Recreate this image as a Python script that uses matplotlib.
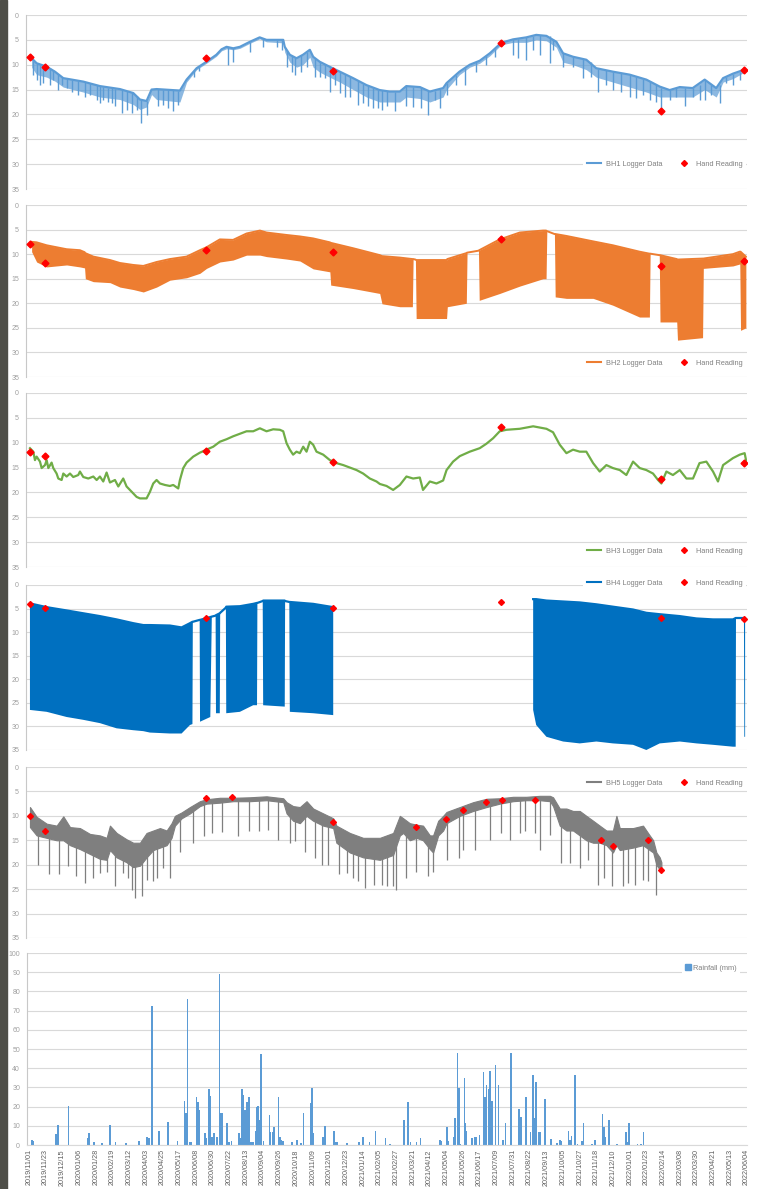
import numpy as np
import pandas as pd
import matplotlib
matplotlib.use('Agg')
import matplotlib.pyplot as plt
from matplotlib.lines import Line2D
from matplotlib.patches import Patch, Rectangle

plt.rcParams['font.family'] = ['Liberation Sans', 'DejaVu Sans']

# x values are days since the first date on the axis
START = '2019-11-01'
tick_days = np.arange(0, 947, 22)
tick_labels = (pd.Timestamp(START) + pd.to_timedelta(tick_days, unit='D')).strftime('%Y/%m/%d')

# hand readings (same visits for BH1-BH4)
hand_day = [2.6, 22.4, 233.8, 400.9, 623, 833.8, 943]
bh1_hand = [8.5, 10.4, 8.6, 11.2, 5.6, 19.4, 11.0]
bh2_hand = [7.95, 11.9, 9.2, 9.65, 7.0, 12.4, 11.35]
bh3_hand = [11.8, 12.65, 11.6, 13.8, 6.9, 17.2, 14.1]
bh4_hand = [4.1, 4.8, 6.9, 4.8, 3.7, 6.9, 7.3]
bh5_hand_day = [2.6, 22.4, 234.2, 268.9, 401.8, 511.4, 550, 572, 602.6, 624, 667, 754.8, 770, 816.2, 833]
bh5_hand = [10.1, 13.2, 6.3, 6.2, 11.3, 12.3, 10.6, 8.9, 7.2, 6.8, 6.7, 14.9, 16.2, 14.9, 21.1]

# BH1 logger: upper trace, lower edge of the dense dips, and the longer dips
bh1_day = [4.8, 11.4, 24.6, 35.5, 46.5, 72.8, 94.7, 121, 138.6, 147.4, 156.1, 162.7, 169.3, 200, 208.8,
           222, 235, 248, 254.8, 261.4, 270.2, 279, 292, 305, 314, 336, 338, 344.7, 353.5, 362,
           371, 375.4, 384, 397, 410.5, 428, 445.6, 463, 476, 489.5, 498, 516, 529, 546.5, 551,
           568, 581.6, 594.7, 608, 623, 638.6, 656, 669, 682.5, 695.6, 704.4, 717.5, 735, 748, 770,
           792, 814, 831.6, 844.7, 858, 875, 890.8, 906, 915, 928, 943]
bh1_level = [8.7, 9.7, 10.4, 11.4, 12.7, 13.4, 14.3, 14.9, 15.7, 17.0, 17.3, 15.0, 14.9, 15.2, 13.0,
             10.7, 9.4, 8.0, 6.9, 6.4, 6.7, 6.4, 5.4, 4.5, 5.0, 5.0, 6.4, 8.0, 8.7, 8.0,
             7.0, 8.4, 9.4, 10.4, 11.4, 12.7, 14.1, 15.1, 15.4, 15.4, 14.3, 14.5, 15.4, 14.7, 13.7,
             11.4, 10.0, 9.2, 7.7, 5.6, 4.9, 4.5, 4.0, 4.2, 5.4, 7.7, 8.4, 9.0, 10.7, 11.4,
             12.0, 13.0, 14.4, 15.1, 14.5, 14.7, 13.0, 14.7, 12.7, 11.8, 11.0]
bh1_band = [10.5, 12.0, 12.5, 13.3, 14.5, 15.5, 16.5, 17.0, 18.0, 19.0, 18.5, 16.0, 17.0, 17.5, 13.5,
            11.0, 9.7, 8.3, 7.2, 6.8, 7.0, 6.7, 5.7, 4.8, 5.4, 5.6, 7.5, 9.5, 10.5, 10.0,
            8.5, 10.5, 11.5, 12.5, 13.5, 15.0, 16.5, 17.5, 17.5, 17.5, 16.5, 16.8, 17.5, 16.5, 15.0,
            12.0, 10.5, 9.7, 8.2, 6.0, 5.5, 5.5, 5.0, 5.2, 6.5, 9.5, 10.0, 11.0, 12.5, 13.5,
            14.5, 15.5, 16.5, 16.5, 16.5, 16.5, 15.0, 16.5, 13.5, 12.8, 11.5]
bh1_spike_day = [7, 11.4, 15.8, 20.2, 29, 33.3, 40, 44.3, 51, 57.5, 66.2, 75, 81.6, 90.4, 94.7, 99.1,
                 105.7, 110, 114.5, 123.2, 129.8, 136.4, 143, 148.2, 156.1, 171.5, 178, 184.6, 191.2,
                 197.8, 218.4, 225.4, 263.6, 270.2, 292, 309.6, 327.2, 333.8, 340.4, 347, 351.3, 360,
                 366.7, 377.6, 384.2, 390.8, 397.4, 404, 410.5, 417, 423.7, 434.6, 441.2, 447.8, 454.4,
                 461, 465.4, 472, 483, 498.2, 507, 518, 526.8, 535.5, 542, 551, 564, 575, 590.4, 603.5,
                 614.5, 638.6, 645, 656, 665, 673.7, 686.8, 691, 704.4, 717.5, 730.7, 741.7, 750.4,
                 761.4, 770, 781, 792, 800.9, 809.6, 818.4, 827, 833.8, 844.7, 853.5, 864.5, 875.4,
                 884, 890.8, 899.6, 910.5, 919, 928, 937]
bh1_spike_top = [9.3, 9.7, 10.0, 10.2, 10.7, 11.0, 11.8, 12.4, 12.8, 13.0, 13.2, 13.4, 13.7, 14.1, 14.3, 14.4,
                 14.6, 14.7, 14.8, 15.0, 15.3, 15.6, 16.3, 17.0, 17.3, 14.9, 15.0, 15.1, 15.1,
                 15.2, 11.2, 10.4, 6.5, 6.7, 5.4, 4.7, 5.0, 5.0, 7.2, 8.3, 8.6, 8.1,
                 7.5, 8.6, 9.4, 9.9, 10.4, 10.9, 11.4, 11.8, 12.4, 13.2, 13.8, 14.2, 14.6,
                 15.0, 15.1, 15.3, 15.4, 14.3, 14.4, 14.5, 15.3, 15.2, 14.9, 13.7, 12.0, 10.7, 9.5, 8.2,
                 6.8, 4.9, 4.8, 4.5, 4.2, 4.0, 4.3, 4.8, 7.7, 8.4, 8.9, 9.5, 10.8,
                 11.1, 11.4, 11.7, 12.0, 12.4, 12.8, 13.2, 14.0, 14.6, 15.1, 14.7, 14.6, 14.7,
                 14.0, 13.0, 14.0, 14.0, 12.5, 11.8, 11.4]
bh1_spike_low = [12.0, 13.0, 14.1, 13.7, 14.1, 13.0, 15.1, 14.1, 14.7, 15.4, 16.0, 16.4, 16.0, 17.1, 17.7, 17.1,
                 17.4, 17.7, 18.4, 19.7, 19.1, 19.7, 19.1, 21.8, 20.1, 18.4, 18.1, 18.7, 19.4,
                 18.1, 12.4, 11.2, 10.0, 9.4, 7.4, 6.4, 6.4, 7.0, 10.4, 11.4, 12.0, 11.4,
                 10.4, 12.4, 12.4, 12.7, 15.4, 14.1, 15.7, 16.4, 16.4, 18.1, 17.7, 18.4, 18.7,
                 18.7, 19.1, 18.4, 19.4, 18.4, 18.6, 18.7, 20.1, 17.1, 18.7, 16.0, 14.1, 14.1, 11.4, 10.0,
                 8.5, 8.0, 8.7, 9.0, 7.0, 8.0, 9.7, 7.0, 10.4, 10.4, 12.7, 12.4, 15.4,
                 14.1, 15.0, 15.4, 16.4, 16.7, 16.0, 17.1, 17.5, 18.8, 17.0, 16.4, 18.3, 16.4,
                 17.1, 17.1, 16.0, 17.7, 13.7, 14.0, 13.0]

# BH2 logger (upper and lower edge of the dense trace)
bh2_day = [4.8, 11.4, 24.6, 37.7, 50.9, 68.4, 74.5, 75.5, 86, 108, 121, 138.6, 151.8, 169.3, 186.8,
           208.8, 226.3, 235, 252.6, 270, 287.7, 305.3, 314, 340.4, 358, 375.4, 397.4, 398.5, 428, 445.6,
           463, 466, 489.5, 506, 507, 510, 511, 551, 552, 577, 578, 593, 594, 621, 647.4,
           678, 682, 683, 693, 694, 708.8, 743.9, 770, 805, 818, 819, 831, 832, 854, 855,
           888, 889, 928, 937, 938, 945]
bh2_top = [7.5, 7.6, 8.2, 8.6, 9.0, 9.2, 9.6, 9.8, 10.5, 11.2, 11.8, 12.2, 12.4, 11.6, 11.0,
           10.5, 9.2, 8.6, 7.0, 7.1, 5.8, 5.2, 5.6, 6.1, 6.4, 6.8, 7.6, 7.7, 8.8, 9.5,
           10.2, 10.4, 10.7, 11.0, 11.0, 11.1, 11.2, 11.2, 11.0, 9.8, 9.7, 9.3, 9.2, 7.0, 5.6,
           5.2, 5.2, 5.3, 5.9, 5.9, 6.3, 7.4, 8.2, 9.5, 9.9, 9.9, 10.2, 10.2, 11.0, 11.1,
           10.9, 10.9, 10.0, 9.5, 9.5, 10.5]
bh2_low = [9.5, 11.6, 12.6, 12.4, 12.2, 12.6, 12.8, 15.0, 15.6, 15.8, 16.7, 17.2, 17.7, 16.7, 15.3,
           14.8, 13.9, 12.9, 11.6, 11.2, 10.2, 10.2, 10.5, 11.0, 11.4, 13.0, 13.6, 16.3, 17.0, 17.5,
           18.0, 20.1, 20.7, 20.7, 11.0, 11.1, 23.1, 23.1, 20.7, 20.0, 9.7, 9.3, 19.4, 18.0, 16.5,
           15.0, 15.0, 5.3, 5.9, 18.7, 19.0, 19.0, 20.4, 22.8, 22.8, 9.9, 10.2, 23.8, 23.8, 27.5,
           27.0, 12.9, 12.4, 12.0, 25.5, 25.0]

# BH3 logger
bh3_day = [2.6, 7.0, 9.2, 11.4, 15.8, 18.0, 22.4, 24.6, 26.8, 31.1, 33.3, 37.7, 39.9, 44.3, 46.5,
           50.9, 55.3, 59.6, 66.2, 68.4, 72.8, 79.4, 86, 90.4, 94.7, 99.1, 103.5, 107.9, 114.5, 118.9,
           125.4, 129.8, 134.2, 138.6, 143, 147.4, 156.1, 160.5, 164.9, 169.3, 173.7, 180.3, 186.8, 191.2, 197.8,
           200, 204.4, 208.8, 217.5, 226.3, 235, 243.9, 252.6, 261.4, 270.2, 279, 287.7, 296.5, 305.3, 309.6,
           314, 322.8, 331.6, 336, 340.4, 344.7, 349, 353.5, 357.9, 362.3, 366.7, 371, 375.4, 379.8, 388.6,
           397.4, 406, 415, 423.7, 432.5, 441.2, 450, 458.8, 463.2, 472, 480.7, 489.5, 498.2, 507, 515.8,
           520, 529, 537.7, 546.5, 551, 559.6, 568.4, 581.6, 594.7, 603.5, 612.3, 621, 629.8, 647.4, 665,
           682.5, 691.2, 700, 708.8, 717.5, 726.3, 735, 743.9, 752.6, 761.4, 770, 779, 787.7, 796.5, 805.3,
           814, 822.8, 829.4, 833.8, 840.4, 849, 858, 866.7, 875.4, 884, 893, 901.8, 908.3, 915, 928,
           937, 943.4, 945.6]
bh3_level = [11.1, 11.8, 13.5, 12.8, 13.8, 15.1, 14.5, 13.5, 15.1, 14.0, 15.1, 16.2, 17.2, 17.5, 16.2,
             16.8, 16.2, 16.9, 16.5, 15.8, 16.9, 17.2, 16.8, 17.5, 16.8, 17.8, 16.0, 18.0, 17.5, 18.8,
             17.2, 18.8, 19.5, 20.2, 20.9, 21.2, 21.2, 19.9, 18.2, 17.5, 18.2, 18.5, 18.7, 18.5, 19.2,
             17.5, 15.1, 14.0, 12.8, 12.0, 11.4, 10.8, 9.8, 9.3, 8.7, 8.2, 7.7, 7.7, 7.1, 7.4,
             7.7, 7.3, 7.4, 7.7, 10.1, 11.4, 12.4, 11.8, 12.1, 10.8, 11.8, 9.8, 10.4, 11.8, 12.4,
             13.5, 14.1, 14.5, 15.0, 15.5, 16.2, 17.2, 17.8, 18.3, 18.7, 19.5, 18.5, 16.8, 17.2, 17.0,
             19.5, 17.8, 18.2, 17.6, 15.5, 13.8, 12.7, 11.8, 11.1, 10.2, 9.1, 7.7, 7.4, 7.2, 6.7,
             7.2, 7.9, 10.4, 12.1, 11.4, 11.8, 11.8, 14.1, 15.8, 14.5, 15.1, 15.5, 16.5, 13.8, 15.1,
             15.5, 16.2, 17.5, 18.2, 15.8, 16.5, 15.5, 17.2, 17.2, 14.1, 13.8, 15.8, 17.8, 14.5, 13.1,
             12.4, 12.1, 13.8]

# BH4 logger (two recording periods, nan = no data)
bh4_day = [2.6, 24.6, 50.9, 72.8, 94.7, 116.7, 138.6, 151.8, 160.5, 186.8, 202.2, 213.2, 216.5, 217, 226,
           226.5, 240, 242, 247, 247.5, 252.5, 253, 260.5, 261, 279, 296.5, 301.5, 302, 309, 309.6,
           338, 338.5, 344, 344.7, 375.4, 401.8, 402.5,
           665, 669, 682.5, 704.4, 726.3, 748.2, 770, 796.5, 814, 831.6, 858, 880, 901.8, 928,
           931.6, 932, 942.5, 943, 944]
bh4_top = [3.9, 4.7, 5.4, 6.0, 6.6, 7.3, 8.1, 8.5, 8.5, 8.6, 9.0, 8.1, 7.8, 7.8, 7.4,
           7.4, 6.8, 6.7, 6.5, 6.4, 6.0, 5.9, 4.8, 4.6, 4.5, 4.0, 3.8, 3.8, 3.4, 3.3,
           3.3, 3.4, 3.6, 3.6, 4.0, 4.7, np.nan,
           3.0, 3.0, 3.3, 3.5, 3.7, 4.1, 4.6, 5.2, 5.9, 6.2, 6.6, 7.1, 7.3, 7.3,
           7.0, 7.0, 7.0, 7.2, 7.3]
bh4_low = [26.5, 26.9, 28.0, 28.6, 29.3, 30.4, 30.8, 31.0, 31.3, 31.5, 31.5, 29.7, 29.5, 7.8, 7.4,
           29.0, 28.0, 6.7, 6.5, 27.2, 27.2, 5.9, 4.8, 27.2, 26.9, 25.5, 25.5, 3.8, 3.4, 25.5,
           25.8, 3.4, 3.6, 26.9, 27.2, 27.6, np.nan,
           26.5, 29.7, 32.2, 33.2, 33.6, 33.2, 33.6, 33.9, 35.0, 33.6, 33.2, 33.6, 33.9, 34.3,
           34.3, 7.0, 7.0, 32.2, 32.2]

# BH5 logger (noise band) and its spikes
bh5_day = [2.6, 11.4, 24.6, 37.7, 46.5, 55.3, 68.4, 81.6, 94.7, 103.5, 107.9, 116.7, 129.8, 138.6, 147.4,
           156.1, 164.9, 173.7, 182.5, 189, 193.4, 202.2, 213.2, 226.3, 235, 252.6, 270.2, 292, 314, 336,
           340.4, 349, 357.9, 366.7, 375.4, 388.6, 401.8, 406, 423.7, 441.2, 463.2, 480.7, 489.5, 494, 502.6,
           511.4, 520, 529, 533.3, 540, 546.5, 551, 568.4, 586, 603.5, 621, 638.6, 656, 673.7, 687,
           691.2, 700, 708.8, 717.5, 726.3, 735, 743.9, 752.6, 761.4, 770, 774.6, 779, 796.5, 809.6, 818.4,
           823, 827.2, 831.6, 833.8]
bh5_top = [8.2, 10.2, 11.6, 12.0, 10.1, 12.3, 12.5, 13.7, 14.0, 14.5, 12.0, 13.5, 14.8, 15.5, 15.5,
           13.5, 13.0, 12.5, 13.0, 11.5, 10.0, 9.3, 8.2, 7.0, 6.6, 6.3, 6.3, 6.2, 6.0, 6.4,
           7.2, 8.0, 8.2, 7.0, 8.5, 9.5, 10.5, 12.0, 13.5, 14.5, 14.5, 13.5, 10.0, 10.5, 11.5,
           11.8, 12.0, 14.0, 14.0, 11.0, 10.0, 9.2, 8.2, 7.2, 6.5, 6.4, 6.1, 6.1, 5.9, 5.9,
           6.2, 8.5, 8.5, 9.0, 9.0, 10.0, 11.0, 12.0, 13.0, 13.0, 10.0, 12.5, 12.5, 12.0, 14.0,
           15.0, 17.5, 18.5, 19.5]
bh5_low = [12.3, 14.0, 14.5, 15.0, 15.0, 16.0, 16.8, 17.8, 18.8, 19.0, 17.0, 18.5, 19.5, 20.5, 20.2,
           18.5, 17.0, 16.5, 16.0, 14.5, 12.0, 10.5, 9.5, 8.0, 7.5, 7.3, 7.0, 7.0, 6.8, 7.2,
           9.5, 11.0, 11.5, 10.0, 11.0, 12.0, 12.5, 15.5, 17.5, 18.5, 19.0, 18.0, 14.0, 13.5, 15.0,
           14.5, 15.0, 16.8, 17.5, 14.0, 13.0, 11.5, 10.0, 9.0, 8.2, 7.5, 7.0, 6.8, 6.8, 7.0,
           8.0, 12.0, 13.0, 13.0, 14.0, 15.0, 15.5, 15.5, 16.0, 17.5, 16.0, 17.0, 16.5, 16.0, 17.0,
           17.5, 20.0, 21.0, 21.5]
bh5_spike_day = [13.6, 28, 41.2, 53, 63.2, 75, 85, 94.7, 104.4, 114.5, 125.4, 132, 136.4, 140.8, 149.6,
                 156.1, 164, 169.3, 178, 186.8, 200, 216.7, 231.6, 241.7, 254.8, 276.8, 291.2, 304, 316.2, 329.4,
                 344.7, 351.3, 364.5, 377.6, 387.3, 395.2, 409.6, 419.3, 427.2, 435, 443, 455.3, 465.4, 472, 480.7,
                 485, 498.2, 511.4, 526.8, 533.3, 551, 567.5, 572.8, 588, 608, 623, 634, 647.4, 654, 667,
                 673.7, 687, 702, 713, 726.3, 737.3, 750.4, 758, 769.3, 783.3, 790, 798.7, 809.6, 816.2, 826.3]
bh5_spike_top = [12, 13, 13.5, 14, 14.5, 15, 15.5, 16, 16.5, 16.5, 17, 17.5, 18, 18, 18,
                 17, 16, 15.5, 15, 14, 10, 8.5, 7.2, 7, 6.8, 6.6, 6.6, 6.4, 6.4, 6.8,
                 9, 9.5, 9, 10, 11, 11.5, 14, 15, 15.5, 16, 16.5, 16.5, 16.5, 16.5, 16,
                 15, 12, 13, 14, 15, 10, 8.5, 8.3, 7.5, 7, 6.6, 6.4, 6.3, 6.2, 6.1,
                 6.1, 6.1, 9, 10, 11, 12, 13, 13, 14, 13, 13, 13, 13, 14, 18]
bh5_spike_low = [20.0, 22.0, 22.0, 20.3, 22.4, 23.7, 22.7, 21.7, 21.4, 24.4, 21.7, 22.7, 25.1, 26.8, 26.5,
                 23.1, 23.4, 22.7, 20.7, 22.7, 17.3, 15.6, 14.1, 13.5, 13.4, 14.1, 13.2, 13.1, 12.8, 15.0,
                 15.6, 15.2, 17.3, 18.6, 20.0, 20.0, 22.0, 21.7, 22.7, 23.4, 24.8, 24.1, 24.1, 24.4, 24.4,
                 25.1, 22.7, 21.4, 22.4, 21.5, 19.0, 18.6, 16.9, 16.9, 14.9, 13.5, 14.9, 13.6, 13.2, 13.5,
                 16.9, 13.9, 19.6, 19.6, 20.7, 19.0, 24.1, 22.7, 24.4, 24.4, 23.7, 24.1, 23.1, 23.4, 26.1]

# daily rainfall (mm), days with rain only
rain_day = [4, 6, 36, 38, 52, 78, 79, 86, 96, 107, 114, 128, 145, 156, 158, 162, 171, 183, 196, 205,
            207, 209, 212, 214, 221, 223, 225, 232, 234, 237, 239, 241, 244, 248, 251, 253, 255, 261, 264, 267,
            277, 279, 281, 283, 285, 287, 289, 290, 293, 295, 299, 300, 302, 304, 306, 309, 317, 318, 321, 323,
            329, 331, 333, 335, 347, 353, 359, 362, 371, 373, 374, 387, 388, 390, 402, 404, 406, 419, 435, 440,
            449, 457, 470, 476, 494, 495, 500, 503, 511, 516, 542, 544, 551, 553, 560, 562, 565, 567, 569, 574,
            575, 576, 584, 588, 590, 594, 599, 601, 603, 606, 608, 610, 615, 619, 625, 628, 635, 636, 646, 649,
            655, 656, 661, 664, 666, 668, 672, 674, 680, 688, 696, 700, 702, 711, 713, 715, 720, 723, 729, 731,
            742, 746, 756, 758, 759, 765, 775, 787, 788, 791, 802, 807, 810]
rain_mm = [2.6, 2.3, 5.6, 10.4, 20.5, 3.5, 6.4, 1.4, 0.9, 10.4, 1.4, 0.9, 2.3, 4.0, 3.5, 72.2, 7.5, 12.2, 2.3, 23.0,
           16.5, 76.0, 1.4, 1.4, 24.9, 22.6, 18.3, 6.4, 3.5, 29.0, 25.6, 4.3, 6.1, 4.0, 89.0, 16.5, 16.5, 11.3, 1.4, 2.1,
           6.1, 3.5, 29.0, 26.1, 18.3, 22.3, 6.1, 25.2, 1.4, 1.4, 7.5, 20.0, 20.3, 13.0, 47.5, 2.3, 15.7, 7.0, 7.0, 9.6,
           25.2, 4.0, 2.6, 1.9, 1.4, 2.6, 0.9, 16.9, 22.1, 29.6, 6.1, 1.7, 4.3, 9.9, 7.3, 1.4, 1.4, 0.9, 1.4, 4.0,
           1.4, 7.5, 3.5, 0.7, 13.1, 11.0, 22.4, 1.7, 1.4, 3.9, 2.4, 2.1, 9.4, 2.1, 4.2, 14.3, 47.9, 29.7, 0.7, 35.0,
           11.2, 7.3, 3.8, 4.2, 4.2, 5.1, 38.0, 24.8, 31.3, 29.0, 38.5, 23.1, 41.8, 31.0, 2.8, 11.7, 47.9, 10.8, 19.0, 14.7,
           24.8, 0.7, 7.0, 36.7, 14.0, 32.7, 7.0, 7.0, 24.1, 3.3, 1.2, 2.8, 2.1, 7.3, 2.8, 4.7, 36.5, 0.7, 2.1, 11.4,
           0.4, 2.4, 16.1, 9.6, 4.2, 13.1, 0.7, 6.6, 1.4, 11.2, 0.4, 0.4, 6.6]

names = ['BH1 Logger Data', 'BH2 Logger Data', 'BH3 Logger Data', 'BH4 Logger Data', 'BH5 Logger Data']
colors = ['#5b9bd5', '#ed7d31', '#70ad47', '#0070c0', '#7f7f7f']
RED = '#ff0000'
GRID = '#d9d9d9'
XLIM = (-2.6, 946.5)

W, H = 760, 1189
fig = plt.figure(figsize=(W / 100, H / 100), dpi=100)
fig.patches.append(Rectangle((0, 0), 7 / W, 1, transform=fig.transFigure, color='#4e4e48', zorder=0))


def px_axes(top, bottom, left=26, right=747):
    return fig.add_axes([left / W, 1 - bottom / H, (right - left) / W, (bottom - top) / H])


def style(ax, ymax, ystep):
    ax.set_xlim(*XLIM)
    ax.set_xticks(tick_days)
    if ystep == 5:
        ax.set_ylim(ymax, 0)
    else:
        ax.set_ylim(0, ymax)
    ax.set_yticks(np.arange(0, ymax + 1, ystep))
    ax.grid(axis='y', color=GRID, lw=0.8)
    ax.set_axisbelow(True)
    for s in ['top', 'right', 'bottom']:
        ax.spines[s].set_visible(False)
    ax.spines['left'].set_color('#c8c8c8')
    ax.spines['left'].set_linewidth(0.8)
    ax.tick_params(axis='y', length=0, pad=5, labelsize=5, labelcolor='#a0a0a0')
    ax.tick_params(axis='x', length=0, labelbottom=False)


def add_legend(ax, i, yfrac):
    h = [Line2D([], [], color=colors[i], lw=1.5),
         Line2D([], [], ls='', marker='D', ms=3, color=RED)]
    leg = ax.legend(h, [names[i], 'Hand Reading'], loc='center right', bbox_to_anchor=(1.004, yfrac),
                    ncol=2, fontsize=5.3, frameon=True, framealpha=1, facecolor='white', edgecolor='none',
                    handlelength=1.9, handletextpad=0.6, columnspacing=2.1, borderpad=0.5, fancybox=False)
    for t in leg.get_texts():
        t.set_color('#808080')
    leg.set_zorder(6)


# panel extents in pixels (top of 0 gridline, bottom of 35 gridline)
extents = [(15, 189), (205, 377), (393, 567), (585, 750), (767, 938)]
legend_y = [0.144, 0.081, 0.092, 1.012, 0.906]
axes = [px_axes(t, b) for t, b in extents]
for ax in axes:
    style(ax, 35, 5)

# BH1
ax = axes[0]
ax.fill_between(bh1_day, bh1_level, bh1_band, color=colors[0], alpha=0.7, lw=0)
ax.vlines(bh1_spike_day, bh1_spike_top, bh1_spike_low, color=colors[0], lw=1.0)
ax.plot(bh1_day, bh1_level, color=colors[0], lw=1.6)
ax.plot(hand_day, bh1_hand, ls='', marker='D', ms=3.5, color=RED, zorder=5)

# BH2
ax = axes[1]
ax.fill_between(bh2_day, bh2_top, bh2_low, color=colors[1], lw=0)
ax.plot(bh2_day, bh2_top, color=colors[1], lw=1.4)
ax.plot(hand_day, bh2_hand, ls='', marker='D', ms=3.5, color=RED, zorder=5)

# BH3
ax = axes[2]
ax.plot(bh3_day, bh3_level, color=colors[2], lw=1.6)
ax.plot(hand_day, bh3_hand, ls='', marker='D', ms=3.5, color=RED, zorder=5)

# BH4
ax = axes[3]
ax.fill_between(bh4_day, bh4_top, bh4_low, color=colors[3], lw=0)
ax.plot(bh4_day, bh4_top, color=colors[3], lw=1.6)
ax.plot(hand_day, bh4_hand, ls='', marker='D', ms=3, color=RED, zorder=5)

# BH5
ax = axes[4]
ax.vlines(bh5_spike_day, bh5_spike_top, bh5_spike_low, color=colors[4], lw=0.9)
ax.fill_between(bh5_day, bh5_top, bh5_low, color=colors[4], lw=0.8, edgecolor=colors[4])
ax.plot(bh5_hand_day, bh5_hand, ls='', marker='D', ms=3, color=RED, zorder=5)

for i, ax in enumerate(axes):
    add_legend(ax, i, legend_y[i])

# rainfall
ax = px_axes(953, 1145, left=27)
ax.bar(rain_day, rain_mm, width=2.2, color='#5b9bd5', lw=0)
style(ax, 100, 10)
ax.set_xticklabels(tick_labels)
ax.tick_params(axis='x', labelbottom=True, rotation=90, labelsize=5.2, labelcolor='#606060', pad=3)
ax.spines['bottom'].set_visible(True)
ax.spines['bottom'].set_color(GRID)
leg = ax.legend([Patch(color='#5b9bd5')], ['Rainfall (mm)'], loc='center right', bbox_to_anchor=(0.995, 0.922),
                fontsize=5.3, frameon=True, framealpha=1, facecolor='white', edgecolor='none',
                handlelength=0.8, handleheight=0.8, handletextpad=0.3, fancybox=False)
for t in leg.get_texts():
    t.set_color('#808080')

fig.savefig('out.png', dpi=100)
